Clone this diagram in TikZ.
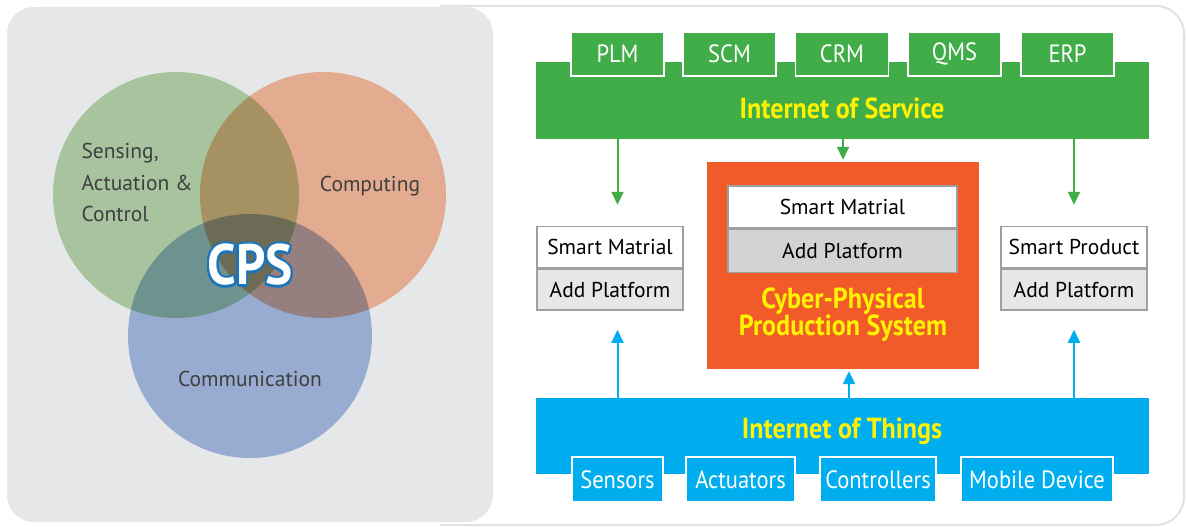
\documentclass[tikz,border=0pt]{standalone}
\usepackage{fontspec}
\setmainfont{PT Sans}
\newfontfamily\condfont[FakeStretch=0.9]{PT Sans}
\usetikzlibrary{arrows.meta,positioning,calc}

\definecolor{panelgray}{HTML}{E6E7E9}
\definecolor{framegray}{HTML}{E2E2E2}
\definecolor{venngreen}{RGB}{186,217,175}
\definecolor{vennorange}{RGB}{252,189,157}
\definecolor{vennblue}{RGB}{168,190,228}
\definecolor{labelgray}{HTML}{3F3F3F}
\definecolor{cpsblue}{HTML}{1B75BC}
\definecolor{iosgreen}{HTML}{41AD49}
\definecolor{iotblue}{HTML}{00AEEF}
\definecolor{cppsorange}{HTML}{F15A29}
\definecolor{ioyellow}{HTML}{FFF200}
\definecolor{cellgray}{HTML}{E6E7E8}
\definecolor{innergray}{HTML}{D1D3D4}
\definecolor{cellborder}{HTML}{9D9FA2}

\tikzset{
  venntext/.style={text=labelgray, font=\fontsize{21.5}{31.5}\selectfont, align=left},
  bar/.style={draw=none, inner sep=0pt, minimum height=76pt, minimum width=613pt},
  bartext/.style={text=ioyellow, font=\condfont\bfseries\fontsize{29}{27}\selectfont},
  tab/.style={draw=white, line width=1.5pt, inner sep=0pt, text=white,
    font=\condfont\fontsize{25}{25}\selectfont},
  cell/.style={draw=cellborder, line width=1.5pt, inner sep=0pt, minimum width=146pt,
    minimum height=41pt, font=\fontsize{21.5}{21.5}\selectfont, text=black},
  garrow/.style={draw=iosgreen, line width=2pt, -{Triangle[width=12pt,length=13pt]}},
  barrow/.style={draw=iotblue, line width=2pt, -{Triangle[width=12pt,length=13pt]}},
  cpsfont/.style={font=\condfont\bfseries\fontsize{57}{57}\selectfont},
}

\begin{document}
\begin{tikzpicture}[x=1pt, y=-1pt]
\useasboundingbox (0,0) rectangle (1186,527);
% frames
\draw[framegray, line width=2pt, rounded corners=28pt] (440,6) -- (1184,6) -- (1184,525) -- (440,525);

% venn diagram
\begin{scope}[blend group=multiply]
  \fill[panelgray, rounded corners=27pt] (7,7) rectangle (493,522);
  \fill[venngreen] (176,195) circle (123);
  \fill[vennorange] (323,195) circle (123);
  \fill[vennblue] (250,336) circle (122);
\end{scope}
\node[venntext, anchor=north west] (sense) at (78,140) {Sensing,\\Actuation \&\\Control};
\node[venntext] (comp) at (370,186) {Computing};
\node[venntext] (comm) at (250,379) {Communication};
\coordinate (cpsc) at (250,265);
\foreach \a in {0,30,...,330}
  \node[cpsfont, text=cpsblue] at ($(cpsc)+(\a:2.2)$) {CPS};
\node[cpsfont, text=white] (cps) at (cpsc) {CPS};

% internet of service
\node[bar, fill=iosgreen] (ios) at (842.5,100.5) {};
\foreach \name/\x in {PLM/617.5, SCM/729.5, CRM/842, QMS/954.5, ERP/1067.5}
  \node[tab, fill=iosgreen, minimum width=93pt, minimum height=44pt] (tab-\name) at (\x,54) {\name};
\node[bartext] (iostext) at (842,108) {Internet of Service};

% internet of things
\node[bar, fill=iotblue] (iot) at (842.5,436) {};
\foreach \name/\x/\w in {Sensors/617.5/91, Actuators/740.5/109, Controllers/878/116, Mobile Device/1037/152}
  \node[tab, fill=iotblue, minimum width=\w pt, minimum height=45pt] (tab-\name) at (\x,479.5) {\name};
\node[bartext] (iottext) at (842,431) {Internet of Things};

% cyber-physical production system
\node[fill=cppsorange, inner sep=0pt, minimum width=272pt, minimum height=207pt] (cpps) at (843,265.5) {};
\node[cell, fill=white, minimum width=229pt, minimum height=42pt] (mid-top) at (842.5,207) {Smart Matrial};
\node[cell, fill=innergray, minimum width=229pt, minimum height=43pt, below=0pt of mid-top] (mid-bot) {Add Platform};
\node[bartext, align=center] (cppstext) at (843,315) {Cyber-Physical\\Production System};

% side boxes
\node[cell, fill=white] (left-top) at (610,247) {Smart Matrial};
\node[cell, fill=cellgray, below=0pt of left-top] (left-bot) {Add Platform};
\node[cell, fill=white] (right-top) at (1074,247) {Smart Product};
\node[cell, fill=cellgray, below=0pt of right-top] (right-bot) {Add Platform};

% arrows
\draw[garrow, shorten >=21pt] (ios.south -| tab-PLM) -- (left-top.north -| tab-PLM);
\draw[garrow, shorten >=2pt] (ios.south -| cpps) -- (cpps.north);
\draw[garrow, shorten >=21pt] (ios.south -| right-top) -- (right-top.north);
\draw[barrow, shorten >=19pt] (iot.north -| tab-PLM) -- (left-bot.south -| tab-PLM);
\draw[barrow, shorten >=2pt] ([xshift=6pt]iot.north -| cpps) -- ([xshift=6pt]cpps.south);
\draw[barrow, shorten >=19pt] (iot.north -| right-bot) -- (right-bot.south);
\end{tikzpicture}
\end{document}
